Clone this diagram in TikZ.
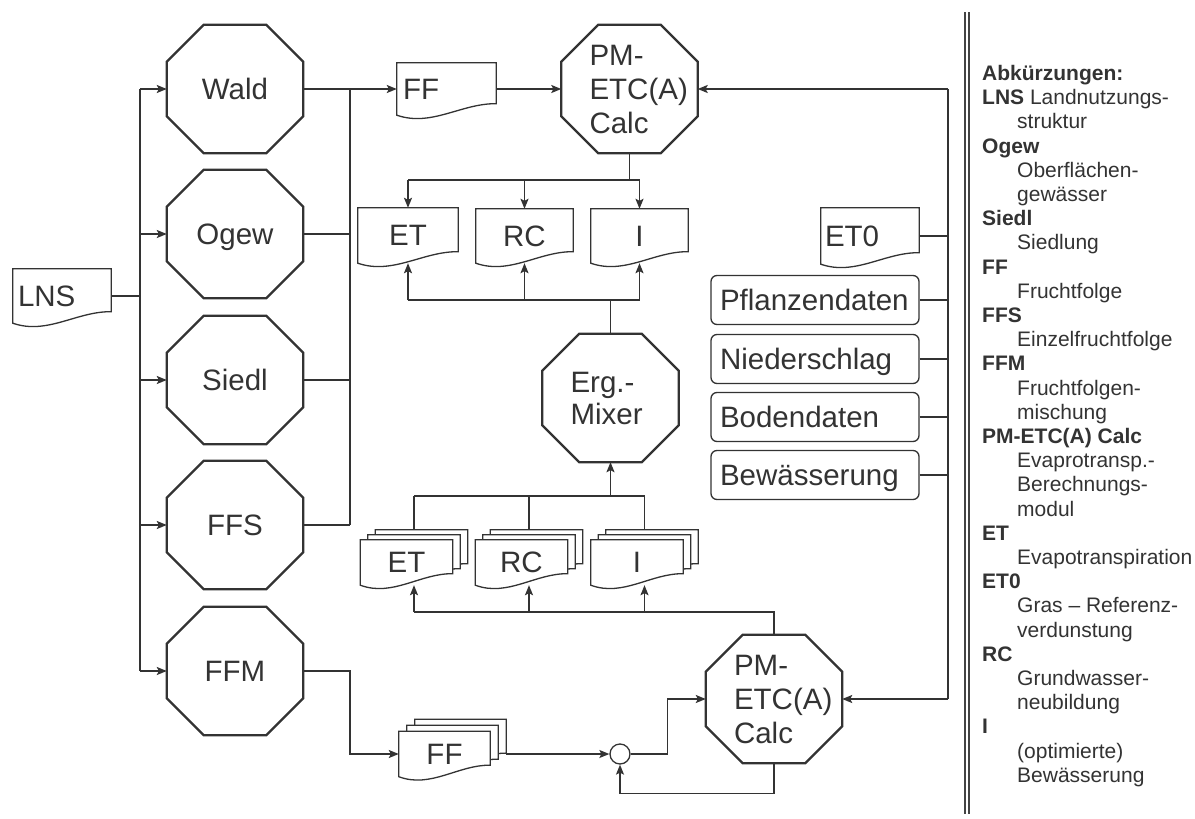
\documentclass[tikz,border=0pt]{standalone}
\usepackage{fontspec}
\setmainfont{Liberation Sans}
\usetikzlibrary{calc,arrows.meta}
\pgfdeclarelayer{background}
\pgfsetlayers{background,main}
\definecolor{ink}{HTML}{333333}
\definecolor{sepcol}{HTML}{444444}
\newcommand\myoct[1]{\draw[octline] ([xshift=37pt]#1.north west) -- ([xshift=-37pt]#1.north east) -- ([yshift=-37pt]#1.north east) -- ([yshift=37pt]#1.south east) -- ([xshift=-37pt]#1.south east) -- ([xshift=37pt]#1.south west) -- ([yshift=37pt]#1.south west) -- ([yshift=-37pt]#1.north west) -- cycle;}
\newcommand\mydoc[1]{\begin{pgfonlayer}{background}\draw[docline] (#1.north west) -- (#1.north east) -- ([yshift=11.5pt]#1.south east) .. controls ([yshift=12pt]$(#1.south west)!0.65!(#1.south east)$) and ([yshift=-12pt]$(#1.south west)!0.35!(#1.south east)$) .. (#1.south west) -- cycle;\end{pgfonlayer}}
\tikzset{
  octbox/.style={rectangle, minimum width=136pt, minimum height=128pt, inner sep=0pt, font=\fontsize{29.5}{34}\selectfont, text=ink},
  octleft/.style={octbox, text width=80pt, align=left, inner xsep=28pt},
  docnode/.style={rectangle, inner sep=0pt, text depth=0pt, font=\fontsize{29.5}{34}\selectfont, text=ink},
  octline/.style={draw=ink, line width=2.3pt, line join=miter},
  docline/.style={draw=ink, line width=1.3pt, fill=white},
  conn/.style={draw=ink, line width=1.4pt},
  arr/.style={conn, -{Stealth[length=10pt,width=8pt,inset=2pt]}},
  rbox/.style={rectangle, draw=ink, line width=1.3pt, rounded corners=6pt, minimum width=208pt, minimum height=49pt, text width=190pt, inner xsep=9pt, inner ysep=0pt, align=left, text depth=0pt, font=\fontsize{29.5}{34}\selectfont, text=ink},
  legtext/.style={anchor=base west, inner sep=0pt, font=\fontsize{21}{24}\selectfont, text=ink},
  sepline/.style={draw=sepcol, line width=1.2pt},
}
\begin{document}
\begin{tikzpicture}[x=1pt, y=-1pt]
\begin{pgfonlayer}{background}
\fill[white] (0,0) rectangle (1195,819);
\end{pgfonlayer}
\useasboundingbox (0,0) rectangle (1195,819);

% left column octagons
\node[octbox, text depth=0pt] (Wald) at (235,89) {Wald};
\node[octbox, text depth=0pt] (Ogew) at (235,234) {Ogew};
\node[octbox, text depth=0pt] (Siedl) at (235,380) {Siedl};
\node[octbox, text depth=0pt] (FFS) at (235,525) {FFS};
\node[octbox, text depth=0pt] (FFM) at (235,671) {FFM};
\foreach \n in {Wald,Ogew,Siedl,FFS,FFM} {\myoct{\n}}

% other octagons
\node[octleft] (PM1) at (629.5,89) {PM-\\ETC(A)\\Calc};
\node[octleft, font=\fontsize{29.5}{32}\selectfont] (Mix) at (610.5,398) {Erg.-\\Mixer};
\node[octleft] (PM2) at (774,699) {PM-\\ETC(A)\\Calc};
\myoct{PM1}\myoct{Mix}\myoct{PM2}

% documents
\node[docnode, minimum width=98pt, minimum height=54pt, text width=88pt, align=left] (LNS) at (62,296) {LNS};
\node[docnode, minimum width=99pt, minimum height=52pt, text width=87pt, align=left] (FFt) at (446.5,89) {FF};
\node[docnode, minimum width=100pt, minimum height=55pt] (ET) at (408,235.5) {ET};
\node[docnode, minimum width=97pt, minimum height=54pt] (RC) at (524.5,236) {RC};
\node[docnode, minimum width=97pt, minimum height=54pt] (I) at (639.5,236) {I};
\node[docnode, minimum width=98pt, minimum height=56pt, text width=90pt, align=left] (ET0) at (870,236) {ET0};
\foreach \n in {LNS,FFt,ET,RC,I,ET0} {\mydoc{\n}}

% stacks
\foreach \n/\cx/\lab in {et/406.5/ET, rc/521.5/RC, i/637/I} {
  \node[docnode, minimum width=92pt, minimum height=45pt] (B\n) at (\cx+15,552.5) {};
  \node[docnode, minimum width=92pt, minimum height=45pt] (M\n) at (\cx+7.5,557.5) {};
  \node[docnode, minimum width=92pt, minimum height=45pt] (F\n) at (\cx,562.5) {\lab};
  \mydoc{B\n}\mydoc{M\n}\mydoc{F\n}
}
\node[docnode, minimum width=91pt, minimum height=45pt] (Bff) at (460.5,742) {};
\node[docnode, minimum width=91pt, minimum height=45pt] (Mff) at (452.5,748) {};
\node[docnode, minimum width=91pt, minimum height=45pt] (Fff) at (444.5,754) {FF};
\mydoc{Bff}\mydoc{Mff}\mydoc{Fff}

% rounded input boxes
\node[rbox] (Pfl) at (815,300) {Pflanzendaten};
\node[rbox] (Nie) at (815,359) {Niederschlag};
\node[rbox] (Bod) at (815,417) {Bodendaten};
\node[rbox] (Bew) at (815,475) {Bewässerung};

% circle
\node[circle, draw=ink, line width=1.3pt, minimum size=20pt, inner sep=0pt] (cir) at (620,754) {};

% helper coordinates
\coordinate (busL) at (140,0);
\coordinate (busR) at (350,0);
\coordinate (bR) at (948,0);
\coordinate (tb) at (0,180);
\coordinate (mb) at (0,300);
\coordinate (b2) at (0,496);
\coordinate (b3) at (0,612);

% left bus
\draw[conn] (LNS.east) -- (LNS.east -| busL);
\draw[conn] (Wald.west -| busL) -- (FFM.west -| busL);
\foreach \n in {Wald,Ogew,Siedl,FFS,FFM} {\draw[arr] (\n.west -| busL) -- (\n.west);}

% right-of-column bus
\draw[conn] (Wald.east -| busR) -- (FFS.east -| busR);
\foreach \n in {Ogew,Siedl,FFS} {\draw[conn] (\n.east) -- (\n.east -| busR);}
\draw[arr] (Wald.east) -- (FFt.west);
\draw[arr] (FFt.east) -- (PM1.west);
\draw[arr] (FFM.east) -- (FFM.east -| busR) |- (Fff.west);

% top PM outputs
\draw[conn] (PM1.south) -- (PM1.south |- tb);
\draw[conn] (ET.north |- tb) -- (I.north |- tb);
\foreach \n in {ET,RC,I} {\draw[arr] (\n.north |- tb) -- (\n.north);}

% mixer to top docs
\draw[conn] (Mix.north) -- (Mix.north |- mb);
\draw[conn] (ET.south |- mb) -- (I.south |- mb);
\foreach \n in {ET,RC,I} {\draw[arr] (\n.south |- mb) -- (\n.south);}

% stacks to mixer
\draw[arr] (Mix.south |- b2) -- (Mix.south);
\draw[conn] (Met.north |- b2) -- (Mi.north |- b2);
\foreach \n in {et,rc,i} {\draw[conn] (M\n.north |- b2) -- (M\n.north |- B\n.north);}

% bottom PM to stacks
\draw[conn] (PM2.north) -- (PM2.north |- b3) -- (Met.north |- b3);
\foreach \n in {et,rc,i} {\draw[arr] (M\n.north |- b3) -- (M\n.north |- F\n.south);}

% FF stack, circle, loop
\draw[arr] (Bff.east |- cir) -- (cir.west);
\draw[arr] (cir.east) -- ++(37,0) |- (PM2.west);
\draw[arr] (PM2.south) -- ++(0,30) -| (cir.south);

% right bus
\draw[conn] (PM1.east -| bR) -- (PM2.east -| bR);
\draw[arr] (PM1.east -| bR) -- (PM1.east);
\draw[arr] (PM2.east -| bR) -- (PM2.east);
\foreach \n in {ET0,Pfl,Nie,Bod,Bew} {\draw[conn] (\n.east) -- (\n.east -| bR);}

% separator
\draw[sepline] (965,12) -- (965,814);
\draw[sepline] (969,12) -- (969,814);

% legend
\foreach \dx/\t [count=\i] in {
  0/{\textbf{Abkürzungen:}},
  0/{\textbf{LNS} Landnutzungs-},
  35/{struktur},
  0/{\textbf{Ogew}},
  35/{Oberflächen-},
  35/{gewässer},
  0/{\textbf{Siedl}},
  35/{Siedlung},
  0/{\textbf{FF}},
  35/{Fruchtfolge},
  0/{\textbf{FFS}},
  35/{Einzelfruchtfolge},
  0/{\textbf{FFM}},
  35/{Fruchtfolgen-},
  35/{mischung},
  0/{\textbf{PM-ETC(A) Calc}},
  35/{Evaprotransp.-},
  35/{Berechnungs-},
  35/{modul},
  0/{\textbf{ET}},
  35/{Evapotranspiration},
  0/{\textbf{ET0}},
  35/{Gras – Referenz-},
  35/{verdunstung},
  0/{\textbf{RC}},
  35/{Grundwasser-},
  35/{neubildung},
  0/{\textbf{I}},
  35/{(optimierte)},
  35/{Bewässerung}} {
  \node[legtext] (lg\i) at (982+\dx, 56.3+24.2*\i) {\t};
}
\end{tikzpicture}
\end{document}
